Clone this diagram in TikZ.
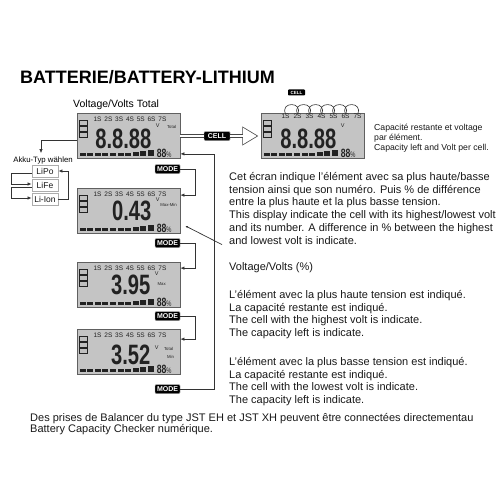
\documentclass[tikz,border=0pt]{standalone}
\usepackage{fontspec}
\setmainfont{Liberation Sans}
\newfontfamily\segfont[FakeStretch=0.72]{Liberation Sans}
\usetikzlibrary{arrows.meta,positioning}

\definecolor{lcdfill}{RGB}{196,196,196}
\definecolor{lcdink}{RGB}{34,34,34}

\tikzset{
  lcd/.style={draw=gray!75!black, fill=lcdfill, line width=0.8pt, minimum width=103pt, minimum height=45pt, inner sep=0pt},
  modebtn/.style={fill=black, draw=gray!60, rounded corners=1pt, text=white, font=\fontsize{7}{7}\selectfont\bfseries, minimum width=25pt, minimum height=9pt, inner sep=0pt},
  typebox/.style={draw=gray!65, line width=0.9pt, minimum width=26pt, minimum height=12pt, inner sep=0pt, text=gray!15!black, font=\fontsize{8.5}{8.5}\selectfont},
  conn/.style={draw=black!80, line width=0.7pt},
  arr/.style={conn, -{Latex[length=4pt,width=3.5pt]}},
  dbl/.style={draw=gray!55!black, line width=0.6pt, double=white, double distance=2.6pt},
  body/.style={anchor=north west, align=left, inner sep=0pt, text=black!90, font=\fontsize{11}{12.8}\selectfont},
  digits/.style={anchor=base east, inner sep=0pt, text=lcdink, font=\segfont\bfseries\fontsize{28}{28}\selectfont},
  cellnum/.style={inner sep=0pt, text=lcdink, font=\fontsize{6.5}{6.5}\selectfont},
  unit/.style={inner sep=0pt, text=lcdink, font=\fontsize{5.5}{5.5}\selectfont},
  tag/.style={inner sep=0pt, text=lcdink, font=\fontsize{4.3}{4.3}\selectfont},
}

% common parts of a display: type icons, cell row, bar graph, percent
\newcommand\lcdparts[4]{%
  \foreach \k in {0,1,2}
    \draw[lcdink, fill=gray!50, line width=0.4pt] (3,7+6*\k) rectangle (11,12+6*\k);
  \foreach \k in {1,...,7}
    \node[cellnum] (#1-c\k) at (#2+#3*\k-#3,#4) {\k S};
  \foreach \k/\h in {0/3,1/3,2/3,3/3,4/3,5/3,6/3,7/4,8/5,9/6}
    \fill[lcdink] (3+7.6*\k,43) rectangle ++(6,-\h);
  \node[anchor=base west, inner sep=0pt, text=lcdink] (#1-pct) at (80,44)
    {\segfont\bfseries\fontsize{12}{12}\selectfont 88{\mdseries\fontsize{8}{8}\selectfont\%}};
}

\begin{document}
\begin{tikzpicture}[x=1pt, y=-1pt]
  \fill[white] (0,0) rectangle (500,500);
  \useasboundingbox (0,0) rectangle (500,500);

  % Title
  \node[anchor=base west, inner sep=0pt, font=\fontsize{18}{18}\selectfont\bfseries] (title) at (20,84) {BATTERIE/BATTERY-LITHIUM};
  \node[anchor=base west, inner sep=0pt, font=\fontsize{10.5}{10.5}\selectfont] (totalcap) at (73,107) {Voltage/Volts Total};

  % Displays
  \node[lcd] (lcdA) at (128.5,136) {};
  \node[lcd] (lcdB) at (128.5,211) {};
  \node[lcd] (lcdC) at (128.5,285) {};
  \node[lcd] (lcdD) at (128.5,352) {};
  \node[lcd] (lcdE) at (312.5,136) {};

  \begin{scope}[shift={(lcdA.north west)}]
    \lcdparts{lcdA}{21}{10.8}{6}
    \node[digits] (lcdA-val) at (75,35) {8.8.88};
    \node[unit] (lcdA-v) at (81,13) {V};
    \node[tag] (lcdA-tag) at (95,14) {Total};
  \end{scope}

  \begin{scope}[shift={(lcdB.north west)}]
    \lcdparts{lcdB}{21}{10.8}{6}
    \node[digits] (lcdB-val) at (75,32) {0.43};
    \node[unit] (lcdB-v) at (81,12) {V};
    \node[tag] (lcdB-tag) at (92,17) {Max-Min};
  \end{scope}

  \begin{scope}[shift={(lcdC.north west)}]
    \lcdparts{lcdC}{21}{10.8}{6}
    \node[digits] (lcdC-val) at (74,32) {3.95};
    \node[unit] (lcdC-v) at (80,12) {V};
    \node[tag] (lcdC-tag) at (85,22) {Max};
  \end{scope}

  \begin{scope}[shift={(lcdD.north west)}]
    \lcdparts{lcdD}{21}{10.8}{6}
    \node[digits] (lcdD-val) at (74,35) {3.52};
    \node[unit] (lcdD-v) at (80,19) {V};
    \node[tag] (lcdD-tag) at (92,20) {Total};
    \node[tag] (lcdD-tag2) at (94,28) {Min};
  \end{scope}

  \begin{scope}[shift={(lcdE.north west)}]
    \lcdparts{lcdE}{25}{12}{3.5}
    \node[digits] (lcdE-val) at (76,35) {8.8.88};
    \node[unit] (lcdE-v) at (82,13) {V};
  \end{scope}

  % cell stepping loops
  \node[fill=black, text=white, inner sep=0pt, minimum width=17pt, minimum height=6pt, rounded corners=0.8pt, font=\fontsize{4.5}{4.5}\selectfont\bfseries] (cellmini) at (296.5,92.5) {CELL};
  \foreach \k [evaluate=\k as \j using int(\k+1)] in {1,...,6}
    \draw[conn, line width=0.6pt] (lcdE-c\k.north) to[out=115, in=65, looseness=3] (lcdE-c\j.north);

  % Buttons
  \node[modebtn] (modeA) at (167.5,169) {MODE};
  \node[modebtn] (modeB) at (167.5,243) {MODE};
  \node[modebtn] (modeC) at (167.5,316) {MODE};
  \node[modebtn] (modeD) at (167.5,389) {MODE};
  \node[modebtn, minimum width=26pt] (cellbtn) at (217,136) {CELL};

  % CELL arrow
  \coordinate (tipbase) at ([xshift=-18pt]lcdE.west);
  \draw[dbl] (lcdA.east) -- (cellbtn.west);
  \draw[dbl] (cellbtn.east) -- (tipbase);
  \draw[draw=gray!55!black, line width=0.6pt, line join=miter] ([yshift=1.9pt]tipbase) -- ([yshift=9pt]tipbase) -- ([xshift=-3pt]lcdE.west) -- ([yshift=-9pt]tipbase) -- ([yshift=-1.9pt]tipbase);

  % Battery type
  \node[inner sep=0pt, font=\fontsize{7.8}{7.8}\selectfont] (akku) at (43,160) {Akku-Typ wählen};
  \node[typebox] (lipo) at (45,171) {LiPo};
  \node[typebox] (life) at (45,185) {LiFe};
  \node[typebox] (liion) at (45,199) {Li-Ion};

  \draw[arr] ([yshift=-4pt]lcdA.west) -| ([xshift=-2pt,yshift=3pt]akku.north);
  \draw[arr] ([yshift=-2pt]lipo.west) -- ++(-20,0) |- ([yshift=1pt]life.west);
  \draw[arr] ([yshift=-2pt]life.west) -- ++(-20,0) |- ([yshift=1pt]liion.west);
  \draw[arr] (liion.east) -- ++(10,0) |- (lipo.east);

  % Mode sequence
  \draw[arr] (modeA.east) -- ++(15,0) |- ([yshift=-7pt]lcdB.north east);
  \draw[arr] (modeB.east) -- ++(15,0) |- ([yshift=-6pt]lcdC.north east);
  \draw[arr] (modeC.east) -- ++(15,0) |- ([yshift=-10pt]lcdD.north east);
  \draw[arr] (modeD.east) -- ++(34,0) |- ([yshift=5pt]lcdA.south east);

  % Texts
  \node[body, font=\fontsize{8.7}{10}\selectfont] (cellnote) at (374,124) {Capacité restante et voltage\\par élément.\\Capacity left and Volt per cell.};
  \node[body] (infoB) at (229,172) {Cet écran indique l'élément avec sa plus haute/basse\\tension ainsi que son numéro. Puis \% de différence\\entre la plus haute et la plus basse tension.\\This display indicate the cell with its highest/lowest volt\\and its number. A difference in \% between the highest\\and lowest volt is indicate.};
  \node[body] (voltpct) at (229,262) {Voltage/Volts (\%)};
  \node[body] (infoC) at (229,290) {L'élément avec la plus haute tension est indiqué.\\La capacité restante est indiqué.\\The cell with the highest volt is indicate.\\The capacity left is indicate.};
  \node[body] (infoD) at (229,357) {L'élément avec la plus basse tension est indiqué.\\La capacité restante est indiqué.\\The cell with the lowest volt is indicate.\\The capacity left is indicate.};
  \node[body, font=\fontsize{11}{11.5}\selectfont] (balancer) at (30,413) {Des prises de Balancer du type JST EH et JST XH peuvent être connectées directementau\\Battery Capacity Checker numérique.};

  \draw[conn, {Latex[length=2.5pt,width=2.5pt]}-] ([xshift=5pt,yshift=8pt]lcdB.south east) -- ([xshift=-7pt]infoB.south west);
\end{tikzpicture}
\end{document}
